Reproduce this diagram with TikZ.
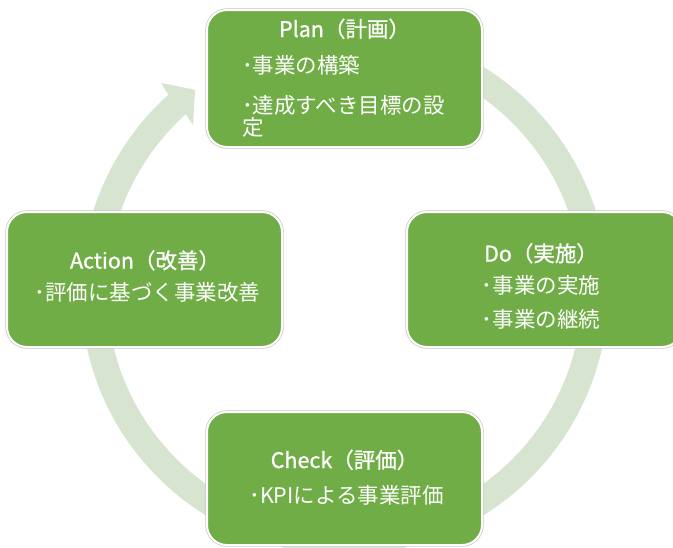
\documentclass[tikz,border=0pt]{standalone}
\usepackage{fontspec}
\setmainfont{Noto Sans CJK JP}
\newfontfamily\titlefont{Noto Sans CJK JP}[FakeBold=1]
\definecolor{boxgreen}{HTML}{70AD47}
\definecolor{ringc}{HTML}{D7E4D0}
\tikzset{
  box/.style={rounded corners=20pt, fill=boxgreen, draw=white, line width=2pt,
    preaction={draw=black!22, line width=3.4pt}, inner sep=0pt},
  txt/.style={text=white, font=\fontsize{21.5}{21.5}\selectfont, inner sep=0pt},
  ttl/.style={text=white, font=\titlefont\fontsize{21.5}{21.5}\selectfont, inner sep=0pt},
}
\begin{document}
\begin{tikzpicture}[x=1pt,y=-1pt]
\useasboundingbox[fill=white] (0,0) rectangle (673,547);
% circular arrow ring
\begin{scope}[shift={(344.5,291)}]
\fill[ringc] (100:263.7pt) arc[start angle=100, end angle=-228.1, radius=263.7pt]
  -- (131.4:277.4pt) -- (126.6:250.6pt) -- (132.4:224.7pt)
  -- (-228.1:237.6pt) arc[start angle=-228.1, end angle=100, radius=237.6pt] -- cycle;
\end{scope}
% boxes
\node[box, minimum width=275pt, minimum height=137pt] (plan) at (344.5,78.5) {};
\node[box, minimum width=275pt, minimum height=135pt] (act) at (144.5,279.5) {};
\node[box, minimum width=275pt, minimum height=135pt] (do) at (544.5,279.5) {};
\node[box, minimum width=275pt, minimum height=133pt] (chk) at (344.5,478.5) {};
% Plan
\node[ttl, anchor=base] (plant) at (344.5,37) {Plan（計画）};
\node[txt, anchor=base west] (plan1) at (242,73.5) {･事業の構築};
\node[txt, anchor=base west] (plan2) at (242,113.5) {･達成すべき目標の設};
\node[txt, anchor=base west] (plan3) at (242,135) {定};
% Do
\node[ttl, anchor=base] (dot) at (541,261.5) {Do（実施）};
\node[txt, anchor=base] (do1) at (541,293.5) {･事業の実施};
\node[txt, anchor=base] (do2) at (541,327) {･事業の継続};
% Action
\node[ttl, anchor=base] (actt) at (145,268.5) {Action（改善）};
\node[txt, anchor=base] (act1) at (147.5,300) {･評価に基づく事業改善};
% Check
\node[ttl, anchor=base] (chkt) at (344.5,468) {Check（評価）};
\node[txt, anchor=base] (chk1) at (346.5,503) {･KPIによる事業評価};
\end{tikzpicture}
\end{document}
